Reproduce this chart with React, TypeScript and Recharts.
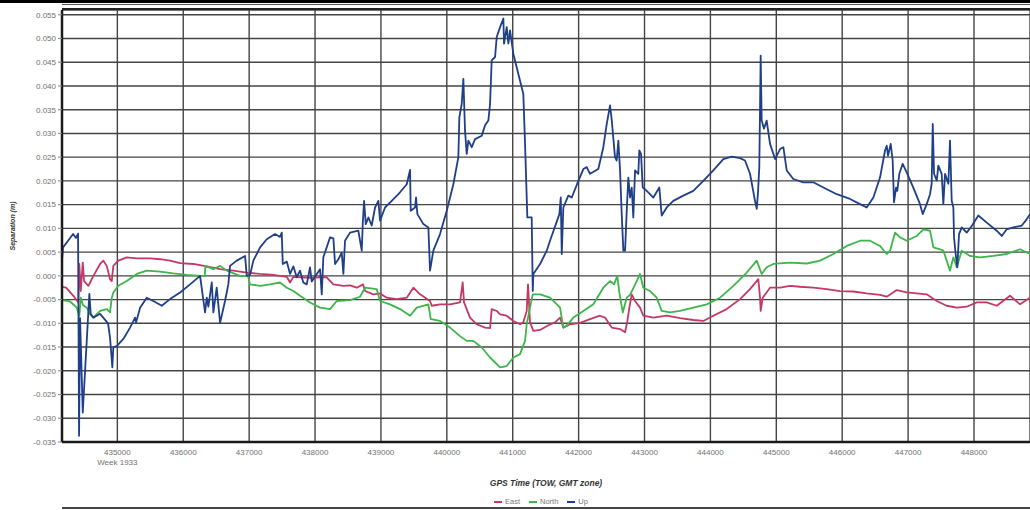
import { LineChart, Line, XAxis, YAxis, CartesianGrid, Label } from "recharts";

// GPS TOW (s) vs separation (m)
const upSeries: [number, number][] = [
  [434161, 0.0035], [434176, 0.006], [434252, 0.0074], [434328, 0.0088], [434373, 0.008], [434404, 0.0089],
  [434419, -0.0337], [434434, -0.0089], [434475, -0.0288], [434575, -0.0038], [434596, -0.008], [434636, -0.0088],
  [434738, -0.008], [434859, -0.01], [434889, -0.013], [434924, -0.0193], [434939, -0.015], [434991, -0.0148],
  [435091, -0.0133], [435193, -0.0109], [435269, -0.0088], [435284, -0.0098], [435345, -0.0067], [435446, -0.0046],
  [435546, -0.0053], [435674, -0.0063], [435800, -0.0049], [435952, -0.0035], [436103, -0.0018], [436255, 0.0],
  [436331, -0.0077], [436357, -0.0046], [436381, -0.0065], [436433, -0.0014], [436457, -0.0077], [436508, -0.0025],
  [436559, -0.0099], [436634, -0.0053], [436684, -0.0018], [436710, 0.0021], [436812, 0.0032], [436938, 0.0042],
  [436964, 0.0], [437014, 0.0002], [437064, 0.0032], [437166, 0.006], [437267, 0.0077], [437393, 0.0088],
  [437469, 0.0082], [437495, 0.0091], [437510, 0.0025], [437571, 0.003], [437621, 0.0004], [437671, 0.002],
  [437722, -0.0003], [437772, 0.0011], [437822, -0.0014], [437874, -0.0018], [437924, 0.0018], [437950, -0.0012],
  [438076, 0.0014], [438102, -0.0039], [438126, 0.0039], [438228, 0.0081], [438278, 0.0079], [438304, 0.0025],
  [438354, 0.0035], [438405, 0.0049], [438430, 0.0004], [438455, 0.0074], [438531, 0.0091], [438657, 0.0095],
  [438709, 0.0053], [438724, 0.0109], [438744, 0.0158], [438770, 0.0109], [438809, 0.0123], [438860, 0.0106],
  [438911, 0.0144], [438961, 0.0158], [438987, 0.0116], [439062, 0.0144], [439164, 0.0158], [439290, 0.0176],
  [439392, 0.0193], [439442, 0.0223], [439452, 0.0137], [439518, 0.0144], [439533, 0.0165], [439553, 0.013],
  [439644, 0.0109], [439720, 0.0102], [439745, 0.0011], [439795, 0.0053], [439897, 0.0088], [439999, 0.0137],
  [440099, 0.0193], [440175, 0.025], [440190, 0.0334], [440226, 0.0362], [440251, 0.0415], [440276, 0.0306],
  [440302, 0.0257], [440327, 0.0285], [440378, 0.0271], [440428, 0.0288], [440530, 0.0295], [440580, 0.0317],
  [440630, 0.0327], [440656, 0.0362], [440681, 0.0454], [440732, 0.0461], [440757, 0.0503], [440808, 0.0524],
  [440858, 0.0542], [440868, 0.0489], [440909, 0.0524], [440934, 0.0489], [440959, 0.0517], [441009, 0.0468],
  [441111, 0.0411], [441161, 0.0383], [441187, 0.0278], [441222, 0.0123], [441288, 0.0123], [441304, -0.0032],
  [441313, 0.0004], [441415, 0.0025], [441516, 0.0053], [441566, 0.0074], [441708, 0.013], [441729, 0.0165],
  [441744, 0.0046], [441768, 0.0144], [441844, 0.0169], [441896, 0.0165], [441996, 0.02], [442072, 0.0225],
  [442123, 0.0229], [442173, 0.0215], [442299, 0.0225], [442375, 0.0271], [442427, 0.032], [442477, 0.0359],
  [442502, 0.0329], [442552, 0.025], [442578, 0.0243], [442603, 0.0285], [442629, 0.0222], [442654, 0.013],
  [442679, 0.0053], [442705, 0.0053], [442730, 0.0137], [442754, 0.0207], [442780, 0.0165], [442806, 0.0186],
  [442830, 0.0123], [442856, 0.0222], [442906, 0.0215], [442921, 0.0264], [442947, 0.0257], [442973, 0.0186],
  [443034, 0.0179], [443134, 0.0165], [443225, 0.0186], [443261, 0.0127], [443337, 0.0144], [443437, 0.0158],
  [443589, 0.0169], [443741, 0.0179], [443892, 0.02], [444044, 0.0222], [444196, 0.0246], [444323, 0.0251],
  [444450, 0.0248], [444525, 0.0243], [444601, 0.0215], [444677, 0.0158], [444703, 0.0141], [444722, 0.0175],
  [444742, 0.0229], [444763, 0.0464], [444778, 0.0327], [444813, 0.031], [444854, 0.0327], [444905, 0.0278],
  [444981, 0.0246], [445057, 0.0267], [445107, 0.0271], [445158, 0.0222], [445258, 0.0204], [445410, 0.0197],
  [445562, 0.0197], [445714, 0.0186], [445917, 0.0172], [446119, 0.0162], [446271, 0.0151], [446372, 0.0144],
  [446473, 0.0165], [446574, 0.0207], [446650, 0.0264], [446676, 0.0274], [446695, 0.0253], [446736, 0.0278],
  [446766, 0.0243], [446786, 0.0155], [446817, 0.0186], [446836, 0.0179], [446867, 0.0215], [446918, 0.0236],
  [446979, 0.0218], [447079, 0.0186], [447181, 0.0151], [447222, 0.013], [447282, 0.0151], [447333, 0.0172],
  [447358, 0.0194], [447374, 0.032], [447394, 0.0215], [447435, 0.0201], [447459, 0.0232], [447510, 0.0215],
  [447535, 0.0151], [447561, 0.0215], [447611, 0.0194], [447636, 0.0285], [447662, 0.0158], [447687, 0.0144],
  [447697, 0.0081], [447722, 0.0046], [447747, 0.0018], [447773, 0.0088], [447814, 0.0102], [447890, 0.0091],
  [447966, 0.0105], [448066, 0.0127], [448194, 0.0112], [448345, 0.0095], [448421, 0.0084], [448497, 0.0098],
  [448597, 0.0102], [448725, 0.0106], [448800, 0.0119], [448850, 0.013],
];

const eastSeries: [number, number][] = [
  [434161, -0.0023], [434222, -0.0025], [434332, -0.0042], [434408, -0.0056], [434423, 0.0025], [434445, -0.0032],
  [434475, 0.0028], [434495, -0.0011], [434560, -0.0021], [434586, -0.0014], [434636, 0.0], [434738, 0.0025],
  [434788, 0.0032], [434839, 0.0021], [434889, -0.0007], [434915, -0.0011], [434939, 0.0021], [435015, 0.0032],
  [435143, 0.0039], [435294, 0.0037], [435496, 0.0037], [435648, 0.0035], [435800, 0.0032], [435952, 0.0027],
  [436153, 0.0025], [436357, 0.002], [436559, 0.0014], [436760, 0.0011], [436964, 0.0007], [437166, 0.0004],
  [437368, 0.0002], [437571, -0.0002], [437621, -0.0014], [437671, -0.0002], [437924, -0.0004], [438076, -0.0003],
  [438177, -0.0003], [438278, -0.0018], [438430, -0.0021], [438531, -0.002], [438633, -0.0025], [438729, -0.0018],
  [438759, -0.0032], [438885, -0.0039], [438987, -0.0037], [439088, -0.0046], [439240, -0.0049], [439392, -0.0046],
  [439492, -0.0025], [439594, -0.0039], [439745, -0.0053], [439771, -0.0063], [439897, -0.006], [440049, -0.006],
  [440200, -0.0056], [440241, -0.0014], [440261, -0.0056], [440352, -0.0088], [440454, -0.0102], [440580, -0.0109],
  [440656, -0.011], [440681, -0.007], [440757, -0.0074], [440808, -0.0081], [440909, -0.0084], [441009, -0.0095],
  [441111, -0.0102], [441161, -0.0098], [441212, -0.0074], [441232, -0.0018], [441262, -0.0098], [441313, -0.0116],
  [441415, -0.0114], [441541, -0.0104], [441642, -0.0098], [441718, -0.0088], [441768, -0.0109], [441870, -0.0102],
  [442022, -0.0099], [442173, -0.0091], [442325, -0.0084], [442401, -0.0088], [442502, -0.0109], [442629, -0.0112],
  [442705, -0.0119], [442740, -0.0095], [442770, -0.0067], [442806, -0.0039], [442856, -0.0053], [442932, -0.0067],
  [442982, -0.0084], [443134, -0.0088], [443337, -0.0084], [443539, -0.0089], [443741, -0.0093], [443892, -0.0095],
  [444044, -0.0084], [444247, -0.007], [444450, -0.0049], [444601, -0.0028], [444727, -0.0007], [444753, -0.0046],
  [444763, -0.0074], [444794, -0.0046], [444905, -0.0025], [445057, -0.0025], [445208, -0.0021], [445360, -0.0023],
  [445562, -0.0025], [445765, -0.0028], [445967, -0.0032], [446169, -0.0033], [446372, -0.0037], [446574, -0.004],
  [446676, -0.0044], [446828, -0.003], [446979, -0.0035], [447131, -0.0037], [447282, -0.0039], [447434, -0.0053],
  [447586, -0.0063], [447738, -0.0067], [447890, -0.0065], [448042, -0.0056], [448194, -0.0056], [448345, -0.0063],
  [448547, -0.0042], [448699, -0.006], [448850, -0.0046],
];

const northSeries: [number, number][] = [
  [434161, -0.0051], [434282, -0.0054], [434384, -0.0067], [434423, -0.0084], [434445, -0.0046], [434480, -0.0062],
  [434536, -0.0067], [434586, -0.0081], [434636, -0.0088], [434738, -0.0074], [434839, -0.007], [434889, -0.0077],
  [434915, -0.0046], [434939, -0.0035], [435015, -0.0021], [435143, -0.0011], [435294, 0.0004], [435446, 0.0011],
  [435648, 0.0009], [435850, 0.0005], [436053, 0.0002], [436255, 0.0], [436326, 0.0], [436336, 0.0021],
  [436457, 0.0014], [436559, 0.0021], [436660, 0.0011], [436862, 0.0], [436983, 0.0], [437014, -0.0018],
  [437166, -0.0021], [437317, -0.0018], [437469, -0.0014], [437571, -0.0025], [437671, -0.0032], [437772, -0.0042],
  [437924, -0.0056], [438076, -0.0067], [438228, -0.007], [438329, -0.0053], [438531, -0.0051], [438683, -0.0044],
  [438759, -0.0025], [438936, -0.0028], [438987, -0.0053], [439138, -0.006], [439290, -0.007], [439442, -0.0084],
  [439543, -0.0067], [439720, -0.006], [439756, -0.0091], [439897, -0.0095], [440049, -0.0109], [440200, -0.0127],
  [440302, -0.0137], [440402, -0.0137], [440530, -0.0151], [440656, -0.0172], [440808, -0.0193], [440909, -0.019],
  [441009, -0.0172], [441111, -0.0165], [441187, -0.0137], [441212, -0.0102], [441262, -0.0067], [441304, -0.0039],
  [441415, -0.0039], [441566, -0.0046], [441718, -0.0067], [441768, -0.0109], [441819, -0.0105], [441920, -0.0088],
  [442072, -0.0074], [442223, -0.006], [442375, -0.0025], [442477, -0.0011], [442538, -0.0018], [442587, 0.0],
  [442618, -0.0035], [442670, -0.0077], [442730, -0.0046], [442780, -0.004], [442882, -0.0011], [442932, 0.0004],
  [442982, -0.0025], [443084, -0.0032], [443185, -0.0046], [443261, -0.0074], [443387, -0.0077], [443539, -0.0074],
  [443741, -0.0067], [443944, -0.006], [444146, -0.0046], [444348, -0.0021], [444551, 0.0007], [444703, 0.0032],
  [444778, 0.0004], [444854, 0.0018], [444955, 0.0025], [445208, 0.0028], [445462, 0.0026], [445664, 0.0032],
  [445866, 0.0046], [446069, 0.0063], [446271, 0.0074], [446422, 0.0074], [446574, 0.0063], [446676, 0.0046],
  [446726, 0.0053], [446802, 0.0091], [446878, 0.0081], [446979, 0.0074], [447131, 0.0084], [447232, 0.0098],
  [447333, 0.0095], [447384, 0.006], [447485, 0.0056], [447535, 0.0053], [447636, 0.0011], [447687, 0.0039],
  [447738, 0.0018], [447814, 0.0053], [447940, 0.0042], [448092, 0.0039], [448294, 0.0042], [448497, 0.0046],
  [448699, 0.0056], [448850, 0.0046],
];

const seriesNames = ["East", "North", "Up"];
const seriesColors = ["#c63864", "#3db54a", "#1f3f88"];

const xTicks = [435000, 436000, 437000, 438000, 439000, 440000, 441000, 442000, 443000, 444000, 445000, 446000, 447000, 448000];
const yTicks = [-0.035, -0.03, -0.025, -0.02, -0.015, -0.01, -0.005, 0, 0.005, 0.01, 0.015, 0.02, 0.025, 0.03, 0.035, 0.04, 0.045, 0.05, 0.055];
const weekLabel = "Week 1933";

const toRows = (pts: [number, number][]) => pts.map(([t, v]) => ({ t, v }));

const FONT = "'Liberation Sans', Arial, sans-serif";

const XTick = (props: any) => {
  const { x, y, payload } = props;
  return (
    <g>
      <text x={x} y={y} dy="0.71em" textAnchor="middle" fontSize={8} fill="#707070" fontFamily={FONT}>
        {payload.value}
      </text>
      {payload.value === xTicks[0] && (
        <text x={x} y={y + 10} dy="0.71em" textAnchor="middle" fontSize={8} fill="#707070" fontFamily={FONT}>
          {weekLabel}
        </text>
      )}
    </g>
  );
};

export default function App() {
  const all = [eastSeries, northSeries, upSeries];
  return (
    <div style={{ position: "absolute", left: 0, top: 0, width: 1030, height: 510, overflow: "hidden", background: "#fff" }}>
      <LineChart width={1030} height={510} margin={{ top: 10, right: 0, bottom: 0, left: 0 }}>
        <CartesianGrid stroke="#444" strokeWidth={1.4} />
        <XAxis
          dataKey="t"
          type="number"
          domain={[434160, 448850]}
          ticks={xTicks}
          allowDataOverflow
          height={68}
          tickSize={0}
          tickMargin={7}
          axisLine={{ stroke: "#1a1a1a", strokeWidth: 2.5 }}
          tick={<XTick />}
        >
          <Label
            value="GPS Time (TOW, GMT zone)"
            position="insideBottom"
            offset={24}
            style={{ fontSize: 8.5, fontWeight: "bold", fontStyle: "italic", fill: "#333", fontFamily: FONT }}
          />
        </XAxis>
        <YAxis
          type="number"
          domain={[-0.035, 0.056]}
          ticks={yTicks}
          allowDataOverflow
          width={62}
          tickSize={4}
          tickMargin={2}
          tickFormatter={(v: number) => v.toFixed(3)}
          tick={{ fontSize: 8, fill: "#707070", fontFamily: FONT }}
          tickLine={{ stroke: "#888" }}
          axisLine={{ stroke: "#1a1a1a", strokeWidth: 2.5 }}
        >
          <Label
            value="Separation (m)"
            angle={-90}
            position="insideLeft"
            offset={13}
            style={{ textAnchor: "middle", fontSize: 7, fontWeight: "bold", fontStyle: "italic", fill: "#333", fontFamily: FONT }}
          />
        </YAxis>
        {all.map((s, i) => (
          <Line
            key={seriesNames[i]}
            data={toRows(s)}
            dataKey="v"
            name={seriesNames[i]}
            type="linear"
            stroke={seriesColors[i]}
            strokeWidth={1.8}
            strokeLinejoin="round"
            dot={false}
            isAnimationActive={false}
          />
        ))}
      </LineChart>
      {/* frame decorations */}
      <div style={{ position: "absolute", left: 0, top: 0, width: 1030, height: 3, background: "#000" }} />
      <div style={{ position: "absolute", left: 62, top: 4, width: 968, height: 1, background: "#555" }} />
      <div style={{ position: "absolute", left: 62, top: 8, width: 968, height: 2, background: "#222" }} />
      <div style={{ position: "absolute", left: 62, top: 507, width: 968, height: 2, background: "#444" }} />
      {/* legend */}
      <div
        style={{
          position: "absolute",
          top: 497,
          left: 494,
          display: "flex",
          gap: 9,
          fontSize: 7.5,
          color: "#777",
          fontFamily: FONT,
          lineHeight: "10px",
        }}
      >
        {seriesNames.map((n, i) => (
          <span key={n} style={{ display: "flex", alignItems: "center", gap: 3 }}>
            <span style={{ display: "inline-block", width: 8, height: 1.5, background: seriesColors[i] }} />
            {n}
          </span>
        ))}
      </div>
    </div>
  );
}
